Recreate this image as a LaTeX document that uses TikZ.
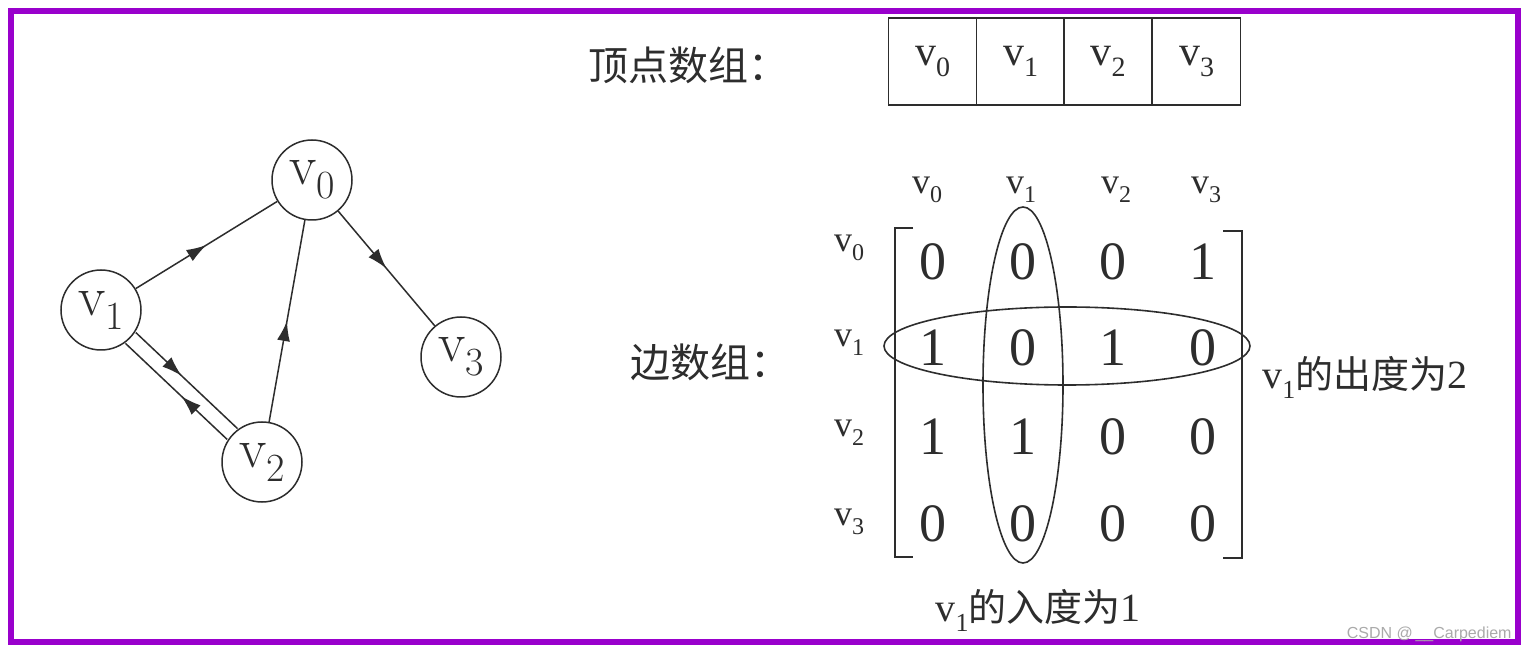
\documentclass[tikz,border=0pt]{standalone}
\usepackage{fontspec}
\usetikzlibrary{arrows.meta,decorations.markings,shapes.geometric}
\newfontfamily\tnr{Liberation Serif}
\newfontfamily\cjk{Noto Sans CJK SC}
\newfontfamily\wmfont{Liberation Sans}
\definecolor{framec}{RGB}{153,0,204}
\definecolor{ink}{RGB}{45,45,45}
\definecolor{wmc}{RGB}{170,170,170}
% v with subscript: #1 main size, #2 sub size, #3 index
\newcommand\vxs[3]{{\fontsize{#1}{#1}\selectfont v\raisebox{-0.25em}{\fontsize{#2}{#2}\selectfont #3}}}
\begin{document}
\begin{tikzpicture}[x=0.5pt,y=-0.5pt,
  vert/.style={circle, draw=ink, line width=0.75pt, minimum size=40pt, inner sep=0pt, text=ink},
  garrow/.style={draw=ink, line width=0.75pt, postaction={decorate},
    decoration={markings, mark=at position #1 with {\arrow{Latex[length=10pt,width=6.5pt]}}}},
  cell/.style={rectangle, draw=ink, line width=0.9pt, minimum width=44pt, minimum height=43.5pt, inner sep=0pt, text=ink, font=\tnr},
  ent/.style={text=ink, font=\tnr\fontsize{27}{27}\selectfont, inner sep=0pt},
  lab/.style={text=ink, font=\tnr, inner sep=0pt},
  cjklab/.style={text=ink, inner sep=0pt},
  ring/.style={ellipse, draw=ink, line width=0.8pt, inner sep=0pt},
  brk/.style={draw=ink, line width=1.3pt}
]
\useasboundingbox (0,0) rectangle (1528,652);
\fill[white] (0,0) rectangle (1528,652);
\draw[framec, line width=3pt] (11,11) rectangle (1518,642);

% graph
\node[vert] (v0) at (312,180) {\vxs{28}{20}{0}};
\node[vert] (v1) at (101,310) {\vxs{28}{20}{1}};
\node[vert] (v2) at (262,462) {\vxs{28}{20}{2}};
\node[vert] (v3) at (461,357) {\vxs{28}{20}{3}};
\draw[garrow=0.5] (v1) -- (v0);
\draw[garrow=0.5] (v0) -- (v3);
\draw[garrow=0.5] (v2) -- (v0);
\draw[garrow=0.45, transform canvas={shift={(2.6pt,2.7pt)}}] (v1) -- (v2);
\draw[garrow=0.45, transform canvas={shift={(-2.6pt,-2.7pt)}}] (v2) -- (v1);

% vertex array
\node[cjklab, anchor=west] (t1) at (588,65) {\cjk\fontsize{20}{20}\selectfont 顶点数组：};
\node[cell] (c0) at (932.5,61.5) {\raisebox{-3pt}{\vxs{21}{14}{0}}};
\node[cell] (c1) at (1020.5,61.5) {\raisebox{-3pt}{\vxs{21}{14}{1}}};
\node[cell] (c2) at (1108,61.5) {\raisebox{-3pt}{\vxs{21}{14}{2}}};
\node[cell] (c3) at (1196.5,61.5) {\raisebox{-3pt}{\vxs{21}{14}{3}}};

% edge array
\node[cjklab, anchor=west] (t2) at (630,362) {\cjk\fontsize{20}{20}\selectfont 边数组：};

% column headers
\node[lab] (h0) at (927,190) {\vxs{18}{12}{0}};
\node[lab] (h1) at (1021,190) {\vxs{18}{12}{1}};
\node[lab] (h2) at (1116,190) {\vxs{18}{12}{2}};
\node[lab] (h3) at (1206,190) {\vxs{18}{12}{3}};
% row labels
\node[lab] (r0) at (849,248) {\vxs{18}{12}{0}};
\node[lab] (r1) at (849,343) {\vxs{18}{12}{1}};
\node[lab] (r2) at (849,433) {\vxs{18}{12}{2}};
\node[lab] (r3) at (849,522) {\vxs{18}{12}{3}};

% entries
\node[ent] (m00) at (933,262) {0};
\node[ent] (m01) at (1023,262) {0};
\node[ent] (m02) at (1113,262) {0};
\node[ent] (m03) at (1203,262) {1};
\node[ent] (m10) at (933,348) {1};
\node[ent] (m11) at (1023,348) {0};
\node[ent] (m12) at (1113,348) {1};
\node[ent] (m13) at (1203,348) {0};
\node[ent] (m20) at (933,437) {1};
\node[ent] (m21) at (1023,437) {1};
\node[ent] (m22) at (1113,437) {0};
\node[ent] (m23) at (1203,437) {0};
\node[ent] (m30) at (933,524) {0};
\node[ent] (m31) at (1023,524) {0};
\node[ent] (m32) at (1113,524) {0};
\node[ent] (m33) at (1203,524) {0};

% brackets
\draw[brk] (913,228) -- (895,228) -- (895,557) -- (913,557);
\draw[brk] (1223,231) -- (1242,231) -- (1242,558) -- (1223,558);

% rings
\node[ring, minimum width=40pt, minimum height=178pt] (colring) at (1023,385) {};
\node[ring, minimum width=183pt, minimum height=39pt] (rowring) at (1067,346) {};

% degree labels
\node[cjklab, anchor=west] (outd) at (1262,377) {{\tnr\vxs{20}{13}{1}}{\cjk\fontsize{19}{19}\selectfont 的出度为}{\tnr\fontsize{20}{20}\selectfont 2}};
\node[cjklab] (ind) at (1038,610) {{\tnr\vxs{20}{13}{1}}{\cjk\fontsize{19}{19}\selectfont 的入度为}{\tnr\fontsize{20}{20}\selectfont 1}};

% watermark
\node[anchor=east, text=wmc, inner sep=0pt, font=\wmfont\fontsize{8}{8}\selectfont] (wm) at (1512,634) {CSDN @\,\_\_Carpediem};
\end{tikzpicture}
\end{document}
